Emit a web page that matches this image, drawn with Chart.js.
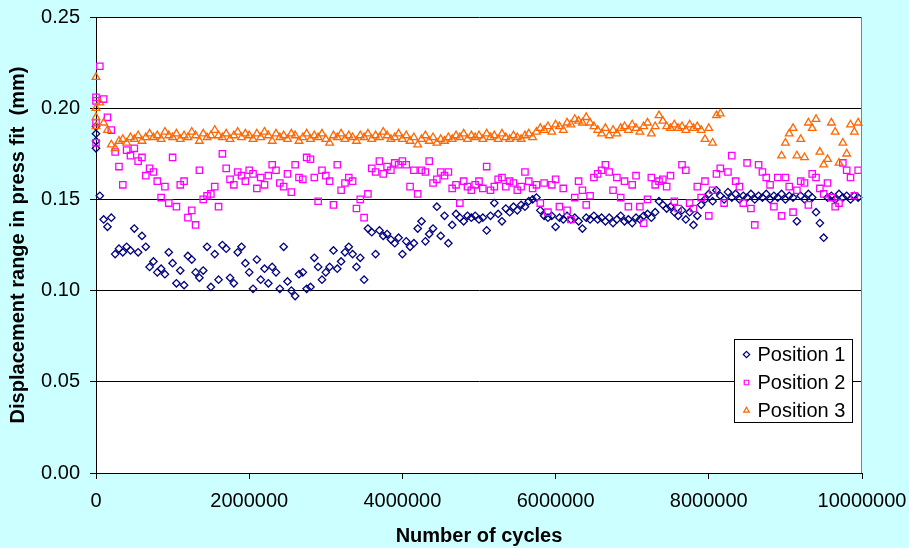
<!DOCTYPE html>
<html>
<head>
<meta charset="utf-8">
<script src="https://cdn.jsdelivr.net/npm/chart.js@4"></script>
<style>
  html, body { margin: 0; padding: 0; background: #CCFFFF; }
  #wrap { width: 909px; height: 548px; }
</style>
</head>
<body>
<div id="wrap"><canvas id="chart" width="909" height="548"></canvas></div>
<script>
// Displacement range vs number of cycles, three measuring positions.
// Values read off the original plot; null = no reading at that cycle count.

const cycles = [
  0, 0, 0, 0,
  50000, 100000, 150000, 200000, 250000, 300000, 350000, 400000, 450000, 500000,
  550000, 600000, 650000, 700000, 750000, 800000, 850000, 900000, 950000, 1000000,
  1050000, 1100000, 1150000, 1200000, 1250000, 1300000, 1350000, 1400000, 1450000, 1500000,
  1550000, 1600000, 1650000, 1700000, 1750000, 1800000, 1850000, 1900000, 1950000, 2000000,
  2050000, 2100000, 2150000, 2200000, 2250000, 2300000, 2350000, 2400000, 2450000, 2500000,
  2550000, 2600000, 2650000, 2700000, 2750000, 2800000, 2850000, 2900000, 2950000, 3000000,
  3050000, 3100000, 3150000, 3200000, 3250000, 3300000, 3350000, 3400000, 3450000, 3500000,
  3550000, 3600000, 3650000, 3700000, 3750000, 3800000, 3850000, 3900000, 3950000, 4000000,
  4050000, 4100000, 4150000, 4200000, 4250000, 4300000, 4350000, 4400000, 4450000, 4500000,
  4550000, 4600000, 4650000, 4700000, 4750000, 4800000, 4850000, 4900000, 4950000, 5000000,
  5050000, 5100000, 5150000, 5200000, 5250000, 5300000, 5350000, 5400000, 5450000, 5500000,
  5550000, 5600000, 5650000, 5700000, 5750000, 5800000, 5850000, 5900000, 5950000, 6000000,
  6050000, 6100000, 6150000, 6200000, 6250000, 6300000, 6350000, 6400000, 6450000, 6500000,
  6550000, 6600000, 6650000, 6700000, 6750000, 6800000, 6850000, 6900000, 6950000, 7000000,
  7050000, 7100000, 7150000, 7200000, 7250000, 7300000, 7350000, 7400000, 7450000, 7500000,
  7550000, 7600000, 7650000, 7700000, 7750000, 7800000, 7850000, 7900000, 7950000, 8000000,
  8050000, 8100000, 8150000, 8200000, 8250000, 8300000, 8350000, 8400000, 8450000, 8500000,
  8550000, 8600000, 8650000, 8700000, 8750000, 8800000, 8850000, 8900000, 8950000, 9000000,
  9050000, 9100000, 9150000, 9200000, 9250000, 9300000, 9350000, 9400000, 9450000, 9500000,
  9550000, 9600000, 9650000, 9700000, 9750000, 9800000, 9850000, 9900000, 9950000
];

const position1 = [
  0.190, 0.186, 0.182, 0.178,
  0.152, 0.139, 0.135, 0.140, 0.120, 0.123, 0.121, 0.124, 0.122, 0.134,
  0.121, 0.130, 0.124, 0.113, 0.116, 0.110, 0.112, 0.109, 0.121, 0.115,
  0.104, 0.111, 0.103, 0.119, 0.117, 0.110, 0.107, 0.111, 0.124, 0.102,
  0.120, 0.106, 0.125, 0.123, 0.107, 0.104, 0.121, 0.124, 0.115, 0.110,
  0.101, 0.117, 0.106, 0.112, 0.104, 0.113, 0.110, 0.101, 0.124, 0.105,
  0.100, 0.097, 0.109, 0.110, 0.101, 0.102, 0.118, 0.113, 0.106, 0.110,
  0.113, 0.122, 0.112, 0.116, 0.121, 0.124, 0.120, 0.113, 0.118, 0.106,
  0.134, 0.132, 0.120, 0.133, 0.130, 0.131, 0.128, 0.126, 0.129, 0.120,
  0.127, 0.124, 0.126, 0.134, 0.138, 0.127, 0.131, 0.134, 0.146, 0.130,
  0.141, 0.126, 0.136, 0.142, 0.140, 0.138, 0.141, 0.140, 0.141, 0.139,
  0.140, 0.133, 0.141, 0.148, 0.142, 0.138, 0.145, 0.143, 0.146, 0.144,
  0.147, 0.146, 0.149, 0.150, 0.151, 0.144, 0.141, 0.140, 0.141, 0.135,
  0.140, 0.139, 0.141, 0.139, 0.140, 0.138, 0.134, 0.140, 0.139, 0.141,
  0.139, 0.140, 0.138, 0.140, 0.137, 0.139, 0.141, 0.138, 0.139, 0.137,
  0.140, 0.139, 0.141, 0.142, 0.140, 0.143, 0.149, 0.147, 0.145, 0.146,
  0.143, 0.141, 0.144, 0.139, 0.143, 0.136, 0.141, 0.147, 0.150, 0.153,
  0.149, 0.155, 0.152, 0.150, 0.154, 0.151, 0.153, 0.150, 0.152, 0.151,
  0.153, 0.150, 0.152, 0.151, 0.153, 0.150, 0.152, 0.151, 0.153, 0.150,
  0.152, 0.151, 0.138, 0.152, 0.150, 0.153, 0.151, 0.143, 0.137, 0.129,
  0.151, 0.152, 0.150, 0.153, 0.151, 0.152, 0.150, 0.152, 0.151
];

const position2 = [
  0.206, 0.204, 0.192, 0.181,
  0.223, 0.205, 0.195, 0.188, 0.176, 0.168, 0.158, 0.177, 0.174, 0.178,
  0.171, 0.173, 0.163, 0.167, 0.165, 0.160, 0.151, 0.157, 0.148, 0.173,
  0.146, 0.158, 0.160, 0.140, 0.144, 0.136, 0.166, 0.150, 0.152, 0.153,
  0.157, 0.146, 0.175, 0.167, 0.161, 0.158, 0.165, 0.163, 0.160, 0.166,
  0.164, 0.156, 0.162, 0.158, 0.163, 0.169, 0.166, 0.159, 0.157, 0.164,
  0.154, 0.169, 0.162, 0.161, 0.173, 0.172, 0.162, 0.149, 0.166, 0.163,
  0.160, 0.147, 0.169, 0.155, 0.159, 0.162, 0.160, 0.145, 0.150, 0.140,
  0.153, 0.167, 0.165, 0.171, 0.164, 0.168, 0.166, 0.170, 0.169, 0.171,
  0.169, 0.157, 0.166, 0.153, 0.166, 0.165, 0.171, 0.159, 0.161, 0.165,
  0.163, 0.165, 0.156, 0.158, 0.148, 0.160, 0.157, 0.155, 0.158, 0.160,
  0.156, 0.168, 0.155, 0.157, 0.161, 0.162, 0.157, 0.160, 0.159, 0.155,
  0.157, 0.165, 0.160, 0.156, 0.158, 0.148, 0.159, 0.143, 0.158, 0.161,
  0.146, 0.156, 0.144, 0.139, 0.151, 0.160, 0.155, 0.147, 0.152, 0.162,
  0.164, 0.166, 0.169, 0.165, 0.155, 0.162, 0.151, 0.160, 0.146, 0.158,
  0.163, 0.146, 0.137, 0.150, 0.162, 0.158, 0.160, 0.161, 0.157, 0.163,
  0.149, 0.145, 0.169, 0.166, 0.148, 0.145, 0.157, 0.151, 0.160, 0.141,
  0.155, 0.164, 0.167, 0.148, 0.165, 0.174, 0.160, 0.157, 0.148, 0.170,
  0.145, 0.136, 0.169, 0.165, 0.162, 0.158, 0.146, 0.162, 0.141, 0.162,
  0.157, 0.143, 0.155, 0.160, 0.159, 0.147, 0.164, 0.162, 0.156, 0.153,
  0.159, 0.151, 0.146, 0.148, 0.170, 0.166, 0.162, 0.152, 0.166
];

const position3 = [
  0.217, 0.200, 0.195, 0.190,
  0.203, 0.192, 0.188, 0.180, 0.178, 0.182, 0.183, 0.181, 0.184, 0.183,
  0.185, 0.182, 0.184, 0.186, 0.184, 0.185, 0.183, 0.187, 0.185, 0.184,
  0.186, 0.183, 0.185, 0.184, 0.187, 0.185, 0.182, 0.186, 0.184, 0.185,
  0.188, 0.185, 0.184, 0.186, 0.183, 0.185, 0.187, 0.184, 0.186, 0.185,
  0.183, 0.186, 0.184, 0.187, 0.185, 0.182, 0.186, 0.184, 0.185, 0.183,
  0.186, 0.185, 0.182, 0.184, 0.186, 0.183, 0.185, 0.184, 0.186, 0.183,
  0.181, 0.185, 0.184, 0.186, 0.183, 0.185, 0.184, 0.182, 0.185, 0.184,
  0.186, 0.183, 0.185, 0.184, 0.187, 0.185, 0.183, 0.184, 0.186, 0.183,
  0.185, 0.182, 0.184, 0.180, 0.183, 0.185, 0.182, 0.184, 0.181, 0.183,
  0.182, 0.184, 0.183, 0.185, 0.184, 0.186, 0.183, 0.185, 0.184, 0.185,
  0.183, 0.186, 0.184, 0.185, 0.183, 0.186, 0.184, 0.183, 0.185, 0.184,
  0.183, 0.185, 0.186, 0.184, 0.187, 0.189, 0.188, 0.190, 0.187, 0.191,
  0.190, 0.188, 0.192, 0.191, 0.194, 0.193, 0.192, 0.195, 0.192, 0.190,
  0.188, 0.186, 0.189, 0.185, 0.188, 0.186, 0.189, 0.190, 0.188, 0.191,
  0.189, 0.187, 0.190, 0.192, 0.186, 0.190, 0.196, 0.193, 0.190, 0.189,
  0.191, 0.189, 0.190, 0.188, 0.191, 0.189, 0.190, 0.188, 0.183, 0.189,
  0.181, 0.196, 0.197, null, null, null, null, null, null, null,
  null, null, null, null, null, null, null, null, 0.174, 0.181,
  0.186, 0.189, 0.174, 0.183, 0.173, 0.192, 0.189, 0.194, 0.176, 0.169,
  0.172, 0.192, 0.187, 0.170, 0.181, 0.175, 0.191, 0.187, 0.192
];

const seriesNames = ["Position 1", "Position 2", "Position 3"];
const seriesColors = ["#000080", "#FF00FF", "#FF6600"];
const xTicks = [0, 2000000, 4000000, 6000000, 8000000, 10000000];

function points(values) {
  const out = [];
  values.forEach((v, k) => { if (v !== null) out.push({ x: cycles[k], y: v }); });
  return out;
}

const FONT = "'Liberation Sans', Arial, sans-serif";
Chart.defaults.font.family = FONT;
Chart.defaults.font.size = 20;
Chart.defaults.color = "#000";

// cyan page, white plot area, grey right-hand border
const frame = {
  id: "frame",
  beforeDraw(chart) {
    const { ctx, chartArea: a } = chart;
    ctx.save();
    ctx.fillStyle = "#CCFFFF";
    ctx.fillRect(0, 0, chart.width, chart.height);
    ctx.fillStyle = "#FFFFFF";
    ctx.fillRect(a.left, a.top, a.right - a.left, a.bottom - a.top);
    ctx.restore();
  },
  afterDraw(chart) {
    const { ctx, chartArea: a } = chart;
    ctx.save();
    ctx.strokeStyle = "#808080";
    ctx.lineWidth = 1;
    ctx.beginPath();
    ctx.moveTo(Math.round(a.right) - 0.5, a.top);
    ctx.lineTo(Math.round(a.right) - 0.5, a.bottom);
    ctx.stroke();
    ctx.restore();
  }
};

function marker(ctx, style, x, y, r) {
  ctx.beginPath();
  if (style === "rectRot") {
    ctx.moveTo(x, y - r); ctx.lineTo(x + r, y); ctx.lineTo(x, y + r); ctx.lineTo(x - r, y);
  } else if (style === "rect") {
    const s = r * Math.SQRT1_2;
    ctx.rect(x - s, y - s, 2 * s, 2 * s);
  } else {
    ctx.moveTo(x, y - r);
    ctx.lineTo(x + r * 0.866, y + r * 0.5);
    ctx.lineTo(x - r * 0.866, y + r * 0.5);
  }
  ctx.closePath();
  ctx.stroke();
}

// Excel-style boxed legend in the lower right of the plot
const boxLegend = {
  id: "boxLegend",
  afterDraw(chart) {
    const { ctx, chartArea: a } = chart;
    const w = 118, h = 83;
    const left = Math.round(a.right - 10 - w) + 0.5;
    const top = Math.round(a.bottom - 51 - h) + 0.5;
    ctx.save();
    ctx.fillStyle = "#fff";
    ctx.fillRect(left, top, w, h);
    ctx.strokeStyle = "#000";
    ctx.lineWidth = 1;
    ctx.strokeRect(left, top, w, h);
    chart.data.datasets.forEach((ds, i) => {
      const y = top + 15 + i * 28;
      ctx.strokeStyle = ds.borderColor;
      ctx.lineWidth = 1.2;
      marker(ctx, ds.pointStyle, left + 12, y, 3.2);
      ctx.fillStyle = "#000";
      ctx.font = "20px " + FONT;
      ctx.textBaseline = "middle";
      ctx.textAlign = "left";
      ctx.fillText(ds.label, left + 23, y + 1);
    });
    ctx.restore();
  }
};

const pointStyles = ["rectRot", "rect", "triangle"];
const pointSizes = [3.7, 4.5, 4.4];
const allValues = [position1, position2, position3];

new Chart(document.getElementById("chart"), {
  type: "scatter",
  data: {
    datasets: allValues.map((vals, i) => ({
      label: seriesNames[i],
      data: points(vals),
      pointStyle: pointStyles[i],
      pointRadius: pointSizes[i],
      pointHoverRadius: pointSizes[i],
      borderColor: seriesColors[i],
      backgroundColor: "rgba(0,0,0,0)",
      pointBorderWidth: 1.3,
      order: 3 - i,
      clip: false
    }))
  },
  options: {
    responsive: false,
    animation: false,
    layout: { padding: { top: 17, right: 47, left: 0, bottom: 0 } },
    plugins: {
      legend: { display: false },
      tooltip: { enabled: false }
    },
    scales: {
      x: {
        type: "linear",
        min: 0,
        max: 10000000,
        afterFit: (s) => { s.height = 75; s.paddingLeft = 0; s.paddingRight = 0; },
        afterBuildTicks: (s) => { s.ticks = xTicks.map(v => ({ value: v })); },
        grid: { drawOnChartArea: false, drawTicks: true, tickLength: 6, color: "#000" },
        border: { color: "#000", width: 1 },
        ticks: { padding: 10, maxRotation: 0, callback: (v) => String(v) },
        title: {
          display: true,
          text: "Number of cycles",
          font: { size: 20, weight: "bold" },
          padding: { top: 0, bottom: 0 }
        }
      },
      y: {
        min: 0,
        max: 0.25,
        afterFit: (s) => { s.width = 96; s.paddingTop = 0; s.paddingBottom = 0; },
        grid: { color: "#000", tickLength: 6 },
        border: { color: "#000", width: 1 },
        ticks: { stepSize: 0.05, padding: 10, callback: (v) => v.toFixed(2) },
        title: {
          display: true,
          text: "Displacement range in press fit  (mm)",
          font: { size: 20, weight: "bold" },
          padding: { top: 6, bottom: 0 }
        }
      }
    }
  },
  plugins: [frame, boxLegend]
});
</script>
</body>
</html>
